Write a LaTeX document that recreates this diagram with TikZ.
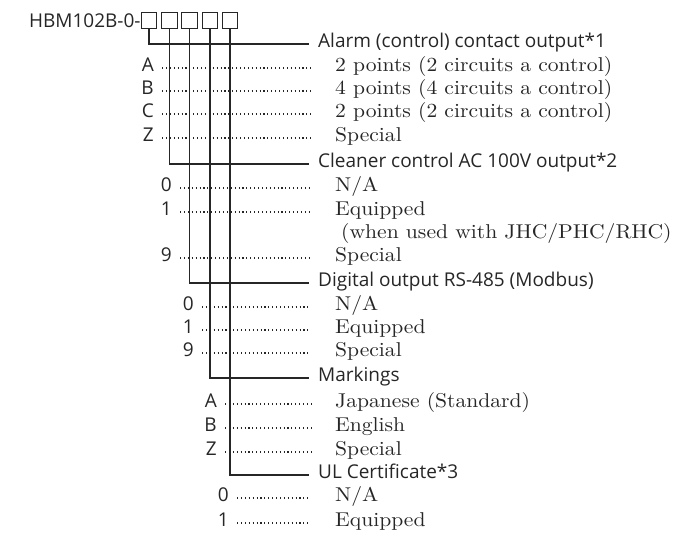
\documentclass[tikz,border=0pt]{standalone}
\usepackage{fontspec}
\setsansfont{Open Sans}
\newfontfamily\optfont{lmroman10-regular}[Extension=.otf, FakeStretch=1.08]
\usetikzlibrary{calc}
\tikzset{
    cell/.style={draw=black!85, line width=1pt, minimum width=15.5pt, minimum height=16pt, inner sep=0pt},
    code/.style={anchor=east, inner sep=0pt, text=black!85, font=\sffamily\fontsize{19}{19}\selectfont},
    head/.style={anchor=west, inner xsep=9pt, inner ysep=0pt, text height=0.714em, text depth=0pt, text=black!85, font=\sffamily\fontsize{19}{19}\selectfont},
    lbl/.style={anchor=east, inner xsep=8pt, inner ysep=0pt, text height=0.714em, text depth=0pt, text=black!85, font=\sffamily\fontsize{19}{19}\selectfont},
    opt/.style={anchor=west, inner sep=0pt, text height=0.683em, text depth=0pt, text=black!85, font=\optfont\fontsize{20}{20}\selectfont},
    lead/.style={line width=1.5pt, black!85},
    dots/.style={line width=1.1pt, dash pattern=on 1.1pt off 2.8pt, black!85, shorten >=24pt}
}

\begin{document}
\begin{tikzpicture}[x=1pt, y=-1pt]
    \useasboundingbox (0,0) rectangle (691,534);

    % Casillas del codigo
    \foreach \i in {1,...,5}
        \node[cell] (cell\i) at ({149+20.25*(\i-1)},21) {};
    \node[code] (model) at (cell1.west) {HBM102B-0-};

    % Titulos de cada casilla
    \node[head] (h1) at (309,44) {Alarm (control) contact output*1};
    \node[head] (h2) at (309,164) {Cleaner control AC 100V output*2};
    \node[head] (h3) at (309,283) {Digital output RS-485 (Modbus)};
    \node[head] (h4) at (309,378) {Markings};
    \node[head] (h5) at (309,475) {UL Certificate*3};
    \foreach \i in {1,...,5}
        \draw[lead] (cell\i.south) |- (h\i.west);

    % Opciones
    \foreach \k/\y/\txt in {A/68/2 points (2 circuits a control), B/91/4 points (4 circuits a control), C/114/2 points (2 circuits a control), Z/138/Special} {
        \node[lbl] (l1\k) at (162,\y) {\k};
        \node[opt] (o1\k) at (335,\y) {\txt};
        \draw[dots] (l1\k.east) -- (o1\k.west);
    }
    \foreach \k/\y/\txt in {0/188/{N/A}, 1/212/Equipped, 9/258/Special} {
        \node[lbl] (l2\k) at (180,\y) {\k};
        \node[opt] (o2\k) at (335,\y) {\txt};
        \draw[dots] (l2\k.east) -- (o2\k.west);
    }
    \node[opt] (o2note) at (341,235) {(when used with JHC/PHC/RHC)};
    \foreach \k/\y/\txt in {0/307/{N/A}, 1/330/Equipped, 9/353/Special} {
        \node[lbl] (l3\k) at (202,\y) {\k};
        \node[opt] (o3\k) at (335,\y) {\txt};
        \draw[dots] (l3\k.east) -- (o3\k.west);
    }
    \foreach \k/\y/\txt in {A/404/Japanese (Standard), B/428/English, Z/452/Special} {
        \node[lbl] (l4\k) at (225,\y) {\k};
        \node[opt] (o4\k) at (335,\y) {\txt};
        \draw[dots] (l4\k.east) -- (o4\k.west);
    }
    \foreach \k/\y/\txt in {0/498/{N/A}, 1/523/Equipped} {
        \node[lbl] (l5\k) at (237,\y) {\k};
        \node[opt] (o5\k) at (335,\y) {\txt};
        \draw[dots] (l5\k.east) -- (o5\k.west);
    }
\end{tikzpicture}
\end{document}
